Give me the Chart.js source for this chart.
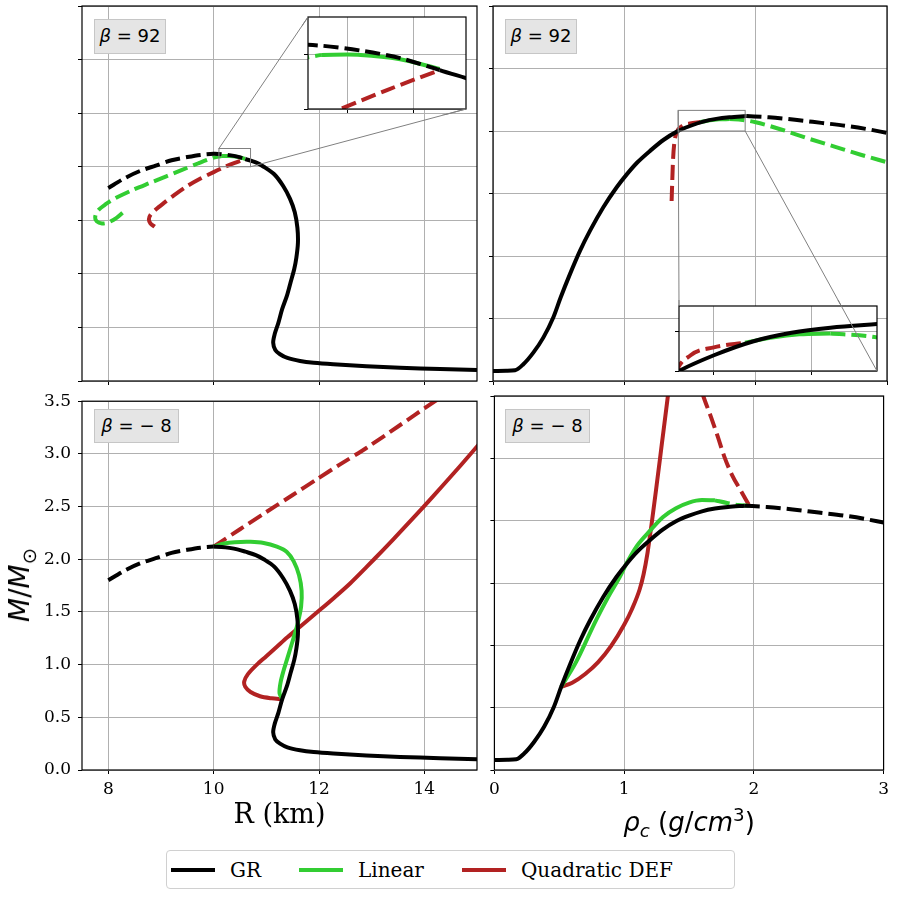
<!DOCTYPE html>
<html>
<head>
<meta charset="utf-8">
<script src="https://cdn.jsdelivr.net/npm/chart.js@4.4.1/dist/chart.umd.min.js"></script>
<style>
    body { margin: 0; background: #fff; width: 900px; height: 900px; position: relative; overflow: hidden; }
    canvas { position: absolute; }
    .tag { position: absolute; box-sizing: border-box; background: #e5e5e5; border: 1px solid #c6c6c6;
           font-family: 'DejaVu Sans'; font-size: 18px; color: #000; text-align: center; line-height: 32px; }
    .tag i { font-style: italic; }
    #ylab { position: absolute; left: 20px; top: 585px; transform: translate(-50%, -50%) rotate(-90deg);
            font-family: 'DejaVu Sans'; font-size: 28px; white-space: nowrap; line-height: 1; }
    #xlab2 { position: absolute; left: 689px; top: 822px; transform: translate(-50%, -50%);
             font-family: 'DejaVu Sans'; font-size: 26px; white-space: nowrap; line-height: 1; }
    sub, sup { font-size: 0.7em; line-height: 0; }
    #legend { position: absolute; left: 166px; top: 850px; width: 569px; height: 39px; box-sizing: border-box;
              border: 1px solid #d0d0d0; border-radius: 4px; display: flex; align-items: center;
              font-family: 'DejaVu Serif'; font-size: 20px; padding-left: 4px; }
    .item { display: flex; align-items: center; margin-right: 38px; }
    .swatch { width: 44px; height: 4px; margin-right: 15px; }
</style>
</head>
<body>
<canvas id="tl" width="484" height="390" style="left:0px;top:0px"></canvas>
<canvas id="tr" width="410" height="390" style="left:484px;top:0px"></canvas>
<canvas id="bl" width="484" height="456" style="left:0px;top:384px"></canvas>
<canvas id="br" width="410" height="456" style="left:484px;top:384px"></canvas>
<canvas id="tlInset" width="170" height="104" style="left:302px;top:11px"></canvas>
<canvas id="trInset" width="210" height="77" style="left:673px;top:300px"></canvas>

<div class="tag" style="left:94px;top:19px;width:72px;height:35px"><i>β</i> = 92</div>
<div class="tag" style="left:505px;top:19px;width:72px;height:35px"><i>β</i> = 92</div>
<div class="tag" style="left:94px;top:409px;width:85px;height:34px"><i>β</i> = − 8</div>
<div class="tag" style="left:505px;top:409px;width:85px;height:34px"><i>β</i> = − 8</div>

<div id="ylab"><i>M</i>/<i>M</i><sub>⊙</sub></div>
<div id="xlab2"><i>ρ<sub>c</sub></i> (<i>g</i>/<i>cm</i><sup>3</sup>)</div>

<div id="legend"></div>

<script>
// ---- series names / colours ----
const seriesNames = ['GR', 'Linear', 'Quadratic DEF'];
const seriesColors = ['#000000', '#32cd32', '#b22222'];

// ---- ticks ----
const radiusTicks = [8, 10, 12, 14];
const rhoTicks = [0, 1, 2, 3];
const massTicksLeft = [0, 0.5, 1, 1.5, 2, 2.5, 3, 3.5];
const massTicksRight = [0, 0.5, 1, 1.5, 2, 2.5, 3];
const insetRadiusTicks = [10.25, 10.5];
const insetRhoTicks = [1.5, 1.75];
const insetMassTicks = [2.0, 2.1];

// ---- GR, mass vs radius ----
const grUnstableR = [8.0, 8.3, 8.6, 8.9, 9.2, 9.5, 9.75, 10.0];
const grUnstableM = [1.80, 1.89, 1.96, 2.01, 2.06, 2.09, 2.11, 2.12];
const grBridgeR = [10.0, 10.15, 10.3, 10.45, 10.6];
const grBridgeM = [2.12, 2.117, 2.108, 2.094, 2.072];
const grStableR = [10.6, 10.8, 10.95, 11.15, 11.32, 11.45, 11.54, 11.59, 11.6, 11.57, 11.53, 11.46, 11.39, 11.3, 11.23, 11.16, 11.13, 11.17, 11.26, 11.4, 11.64, 11.9, 12.27, 12.9, 13.54, 14.3, 15.0];
const grStableM = [2.072, 2.04, 2.0, 1.93, 1.82, 1.70, 1.575, 1.43, 1.29, 1.15, 1.045, 0.92, 0.795, 0.67, 0.545, 0.44, 0.358, 0.29, 0.25, 0.215, 0.187, 0.17, 0.156, 0.138, 0.124, 0.112, 0.103];

// ---- beta = 92, mass vs radius ----
const linTopUnstableR = [8.27, 8.15, 8.0, 7.88, 7.78, 7.75, 7.8, 7.95, 8.13, 8.45, 8.77, 9.1, 9.4, 9.7, 10.0, 10.15];
const linTopUnstableM = [1.57, 1.52, 1.48, 1.47, 1.49, 1.53, 1.59, 1.65, 1.705, 1.78, 1.845, 1.91, 1.97, 2.03, 2.085, 2.1];
const linTopStableR = [10.15, 10.3, 10.45, 10.6];
const linTopStableM = [2.1, 2.1, 2.092, 2.074];
const quadTopR = [8.88, 8.8, 8.77, 8.8, 8.9, 9.05, 9.25, 9.5, 9.75, 10.0, 10.2, 10.4, 10.6];
const quadTopM = [1.44, 1.47, 1.51, 1.55, 1.60, 1.66, 1.735, 1.82, 1.89, 1.95, 1.995, 2.035, 2.072];

// ---- beta = -8, mass vs radius ----
const linBotR = [10.0, 10.2, 10.4, 10.7, 10.95, 11.2, 11.39, 11.52, 11.62, 11.67, 11.66, 11.6, 11.54, 11.46, 11.39, 11.32, 11.27, 11.25, 11.3];
const linBotM = [2.12, 2.15, 2.162, 2.165, 2.155, 2.12, 2.07, 1.98, 1.85, 1.70, 1.55, 1.40, 1.29, 1.16, 1.045, 0.93, 0.83, 0.73, 0.67];
const quadBotR = [11.3, 11.1, 10.88, 10.7, 10.6, 10.58, 10.65, 10.82, 11.0, 11.2, 11.4, 11.64, 12.02, 12.3, 12.59, 12.9, 13.22, 13.6, 13.98, 14.35, 14.68, 15.0, 15.1];
const quadBotM = [0.67, 0.68, 0.70, 0.74, 0.79, 0.84, 0.91, 1.0, 1.08, 1.17, 1.26, 1.36, 1.52, 1.64, 1.77, 1.925, 2.09, 2.29, 2.495, 2.70, 2.885, 3.07, 3.13];
const quadBotUnstableR = [10.0, 10.5, 11.0, 11.5, 11.96, 12.4, 12.9, 13.5, 14.17, 14.3];
const quadBotUnstableM = [2.12, 2.285, 2.448, 2.61, 2.76, 2.9, 3.056, 3.26, 3.49, 3.53];

// ---- GR, mass vs central density ----
const grRho = [0, 0.1, 0.168, 0.231, 0.307, 0.383, 0.459, 0.515, 0.586, 0.663, 0.739, 0.84, 0.942, 1.02, 1.1, 1.2, 1.3, 1.4, 1.5, 1.6, 1.7, 1.8, 1.93];
const grRhoM = [0.08, 0.082, 0.086, 0.134, 0.227, 0.347, 0.508, 0.668, 0.855, 1.043, 1.203, 1.39, 1.55, 1.655, 1.75, 1.845, 1.93, 1.995, 2.04, 2.075, 2.097, 2.11, 2.12];
const grRhoUnstable = [1.93, 2.1, 2.3, 2.5, 2.7, 2.85, 3.0];
const grRhoUnstableM = [2.12, 2.11, 2.09, 2.065, 2.04, 2.015, 1.985];

// ---- beta = 92, mass vs central density ----
const linRhoTopStable = [1.58, 1.65, 1.72, 1.8];
const linRhoTopStableM = [2.072, 2.085, 2.093, 2.095];
const linRhoTopUnstable = [1.8, 1.9, 2.0, 2.2, 2.4, 2.6, 2.8, 3.0];
const linRhoTopUnstableM = [2.095, 2.088, 2.07, 2.01, 1.94, 1.875, 1.81, 1.75];
const quadRhoTop = [1.36, 1.365, 1.37, 1.38, 1.4, 1.44, 1.5, 1.58];
const quadRhoTopM = [1.44, 1.6, 1.75, 1.9, 1.99, 2.04, 2.06, 2.072];

// ---- beta = -8, mass vs central density ----
const linRhoBot = [0.515, 0.624, 0.784, 0.878, 0.967, 1.02, 1.1, 1.2, 1.3, 1.4, 1.5, 1.6, 1.7];
const linRhoBotM = [0.668, 0.855, 1.203, 1.39, 1.55, 1.66, 1.8, 1.92, 2.03, 2.1, 2.145, 2.165, 2.163];
const linRhoBotUnstable = [1.7, 1.8, 1.88, 1.96];
const linRhoBotUnstableM = [2.163, 2.14, 2.125, 2.12];
const quadRhoBot = [0.515, 0.6, 0.7, 0.8, 0.9, 1.0, 1.06, 1.12, 1.15, 1.18, 1.21, 1.25, 1.29, 1.33, 1.36];
const quadRhoBotM = [0.668, 0.70, 0.77, 0.865, 0.995, 1.165, 1.29, 1.45, 1.57, 1.74, 1.96, 2.28, 2.61, 2.94, 3.19];
const quadRhoBotUnstable = [1.96, 1.9, 1.83, 1.77, 1.72, 1.67, 1.61, 1.58];
const quadRhoBotUnstableM = [2.13, 2.24, 2.37, 2.52, 2.68, 2.83, 3.0, 3.1];

// zoomed windows shown in the insets
const tlZoomR = [10.1, 10.7];
const tlZoomM = [2.0, 2.17];
const trZoomRho = [1.41, 1.92];
const trZoomM = [2.0, 2.165];

// page boxes of the insets (left, top, right, bottom)
const tlInsetBox = [308, 17, 466, 109];
const trInsetBox = [679, 306, 877, 371];

const FONT_TICK = { family: 'DejaVu Serif', size: 17 };

// build {x, y} points from two arrays
function pts(xs, ys) {
    return xs.map((x, i) => ({ x: x, y: ys[i] }));
}

// one curve of the plot
function curve(xs, ys, color, dashed, monotone) {
    return {
        data: pts(xs, ys),
        borderColor: color,
        borderWidth: 4,
        borderDash: dashed ? [15, 6] : [],
        pointRadius: 0,
        tension: 0.3,
        cubicInterpolationMode: monotone ? 'monotone' : 'default',
        fill: false,
        clip: 0
    };
}

// axis with fixed ticks and fixed box size
function axis(min, max, ticks, size, horizontal, labels, fmt) {
    return {
        type: 'linear',
        min: min,
        max: max,
        afterBuildTicks: s => { s.ticks = ticks.map(v => ({ value: v })); },
        afterFit: s => { if (horizontal) s.height = size; else s.width = size; },
        grid: { color: '#b0b0b0', lineWidth: 1, drawTicks: true, tickLength: 4, tickColor: '#000' },
        border: { display: false },
        ticks: {
            display: labels,
            color: '#000',
            font: FONT_TICK,
            padding: horizontal ? 5 : 7,
            maxRotation: 0,
            autoSkip: false,
            callback: fmt || (v => v)
        }
    };
}

// page coordinates of the zoom rectangle drawn on a main panel
function zoomCorners(chart, canvasLeft, canvasTop, zoomX, zoomY) {
    return [
        chart.scales.x.getPixelForValue(zoomX[0]) + canvasLeft,
        chart.scales.y.getPixelForValue(zoomY[1]) + canvasTop,
        chart.scales.x.getPixelForValue(zoomX[1]) + canvasLeft,
        chart.scales.y.getPixelForValue(zoomY[0]) + canvasTop
    ];
}

// connector lines: upper-left to upper-left, lower-right to lower-right
function drawConnectors(ctx, c, box, canvasLeft, canvasTop) {
    ctx.save();
    ctx.strokeStyle = '#808080';
    ctx.lineWidth = 1;
    ctx.beginPath();
    ctx.moveTo(c[0] - canvasLeft, c[1] - canvasTop);
    ctx.lineTo(box[0] - canvasLeft, box[1] - canvasTop);
    ctx.moveTo(c[2] - canvasLeft, c[3] - canvasTop);
    ctx.lineTo(box[2] - canvasLeft, box[3] - canvasTop);
    ctx.stroke();
    ctx.restore();
}

// frame around the plot area, plus the zoom rectangle and its connectors
function framePlugin(canvasLeft, canvasTop, zoomX, zoomY, insetBox) {
    return {
        id: 'frame',
        afterDatasetsDraw(chart) {
            const ctx = chart.ctx;
            const a = chart.chartArea;
            if (zoomX) {
                const c = zoomCorners(chart, canvasLeft, canvasTop, zoomX, zoomY);
                chart.zoomPage = c;
                ctx.save();
                ctx.strokeStyle = '#808080';
                ctx.lineWidth = 1;
                ctx.strokeRect(c[0] - canvasLeft, c[1] - canvasTop, c[2] - c[0], c[3] - c[1]);
                ctx.restore();
                drawConnectors(ctx, c, insetBox, canvasLeft, canvasTop);
            }
            ctx.save();
            ctx.strokeStyle = '#000';
            ctx.lineWidth = 1.2;
            ctx.strokeRect(a.left, a.top, a.right - a.left, a.bottom - a.top);
            ctx.restore();
        }
    };
}

// white background for inset axes, frame, and connectors drawn over it
function insetPlugin(canvasLeft, canvasTop, parent, insetBox) {
    return {
        id: 'inset',
        beforeDraw(chart) {
            const a = chart.chartArea;
            chart.ctx.save();
            chart.ctx.fillStyle = '#fff';
            chart.ctx.fillRect(a.left, a.top, a.right - a.left, a.bottom - a.top);
            chart.ctx.restore();
        },
        afterDraw(chart) {
            const ctx = chart.ctx;
            const a = chart.chartArea;
            ctx.save();
            ctx.strokeStyle = '#000';
            ctx.lineWidth = 1.2;
            ctx.strokeRect(a.left, a.top, a.right - a.left, a.bottom - a.top);
            ctx.restore();
            if (parent.zoomPage) drawConnectors(ctx, parent.zoomPage, insetBox, canvasLeft, canvasTop);
        }
    };
}

function makeChart(id, datasets, scales, padding, plugins) {
    return new Chart(document.getElementById(id), {
        type: 'line',
        data: { datasets: datasets },
        options: {
            responsive: false,
            animation: false,
            devicePixelRatio: 1,
            layout: { padding: padding },
            scales: scales,
            plugins: { legend: { display: false }, tooltip: { enabled: false } }
        },
        plugins: plugins
    });
}

const [BLACK, GREEN, RED] = seriesColors;
const massFmt = v => v.toFixed(1);

// datasets per panel
const tlSets = [
    curve(grUnstableR.concat(grBridgeR.slice(1)), grUnstableM.concat(grBridgeM.slice(1)), BLACK, true),
    curve(grStableR, grStableM, BLACK, false),
    curve(linTopUnstableR, linTopUnstableM, GREEN, true),
    curve(linTopStableR, linTopStableM, GREEN, false),
    curve(quadTopR, quadTopM, RED, true)
];
const blSets = [
    curve(grUnstableR, grUnstableM, BLACK, true),
    curve(grBridgeR.concat(grStableR.slice(1)), grBridgeM.concat(grStableM.slice(1)), BLACK, false),
    curve(linBotR, linBotM, GREEN, false),
    curve(quadBotUnstableR, quadBotUnstableM, RED, true),
    curve(quadBotR, quadBotM, RED, false)
];
const trSets = [
    curve(grRho, grRhoM, BLACK, false, true),
    curve(grRhoUnstable, grRhoUnstableM, BLACK, true, true),
    curve(linRhoTopStable, linRhoTopStableM, GREEN, false, true),
    curve(linRhoTopUnstable, linRhoTopUnstableM, GREEN, true, true),
    curve(quadRhoTop, quadRhoTopM, RED, true, true)
];
const brSets = [
    curve(grRho, grRhoM, BLACK, false, true),
    curve(grRhoUnstable, grRhoUnstableM, BLACK, true, true),
    curve(linRhoBot, linRhoBotM, GREEN, false, true),
    curve(linRhoBotUnstable, linRhoBotUnstableM, GREEN, true, true),
    curve(quadRhoBot, quadRhoBotM, RED, false, true),
    curve(quadRhoBotUnstable, quadRhoBotUnstableM, RED, true, true)
];

// top left: beta = 92, M(R)
const tlChart = makeChart('tl', tlSets, {
    x: axis(7.5, 15, radiusTicks, 9, true, false),
    y: axis(0, 3.5, massTicksLeft, 82, false, false)
}, { top: 6, right: 7, left: 0, bottom: 0 }, [framePlugin(0, 0, tlZoomR, tlZoomM, tlInsetBox)]);

// top right: beta = 92, M(rho_c)
const trChart = makeChart('tr', trSets, {
    x: axis(0, 3, rhoTicks, 9, true, false),
    y: axis(0, 3, massTicksRight, 9, false, false)
}, { top: 6, right: 7, left: 0, bottom: 0 }, [framePlugin(484, 0, trZoomRho, trZoomM, trInsetBox)]);

// bottom left: beta = -8, M(R)
const blX = axis(7.5, 15, radiusTicks, 70, true, true);
blX.title = { display: true, text: 'R (km)', color: '#000', font: { family: 'DejaVu Serif', size: 27 }, padding: { top: 0, bottom: 8 } };
makeChart('bl', blSets, {
    x: blX,
    y: axis(0, 3.5, massTicksLeft, 82, false, true, massFmt)
}, { top: 12, right: 7, left: 0, bottom: 0 }, [framePlugin(0, 384)]);

// bottom right: beta = -8, M(rho_c)
makeChart('br', brSets, {
    x: axis(0, 3, rhoTicks, 70, true, true),
    y: axis(0, 3, massTicksRight, 9, false, false)
}, { top: 12, right: 7, left: 0, bottom: 0 }, [framePlugin(484, 384)]);

// insets
makeChart('tlInset', tlSets, {
    x: axis(tlZoomR[0], tlZoomR[1], insetRadiusTicks, 6, true, false),
    y: axis(tlZoomM[0], tlZoomM[1], insetMassTicks, 6, false, false)
}, { top: 6, right: 6, left: 0, bottom: 0 }, [insetPlugin(302, 11, tlChart, tlInsetBox)]);

makeChart('trInset', trSets, {
    x: axis(trZoomRho[0], trZoomRho[1], insetRhoTicks, 6, true, false),
    y: axis(trZoomM[0], trZoomM[1], insetMassTicks, 6, false, false)
}, { top: 6, right: 6, left: 0, bottom: 0 }, [insetPlugin(673, 300, trChart, trInsetBox)]);

// legend
const legend = document.getElementById('legend');
seriesNames.forEach((name, i) => {
    const item = document.createElement('div');
    item.className = 'item';
    item.innerHTML = '<div class="swatch" style="background:' + seriesColors[i] + '"></div><span>' + name + '</span>';
    legend.appendChild(item);
});
</script>
</body>
</html>
